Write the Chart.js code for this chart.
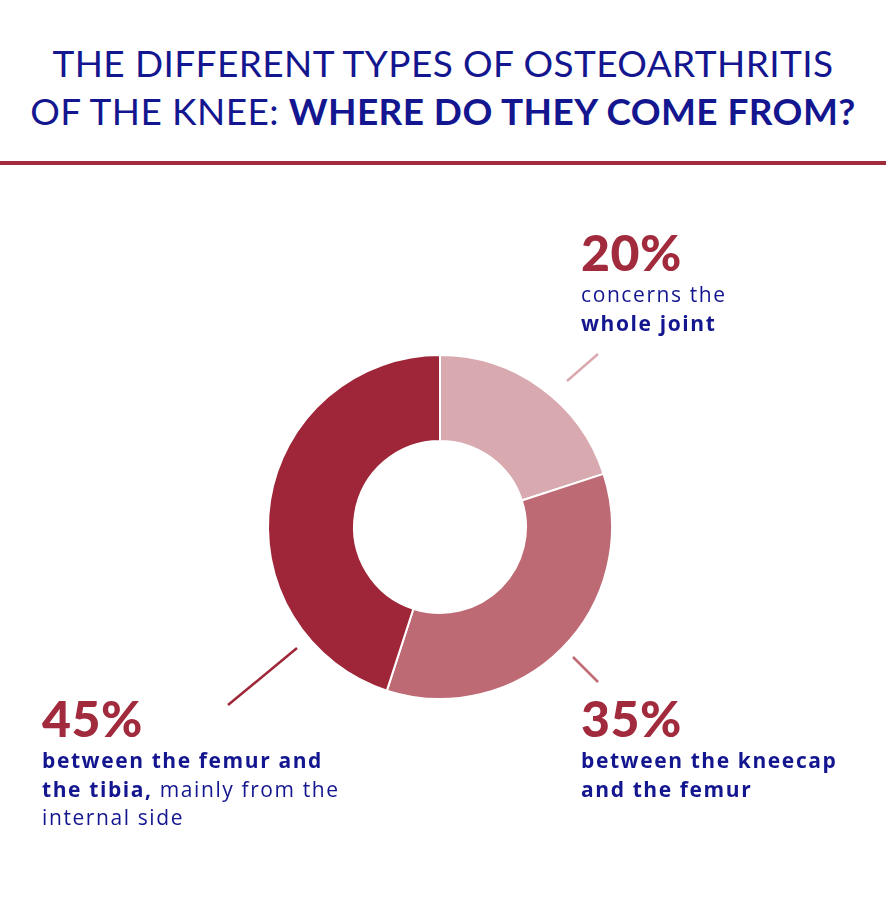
<!DOCTYPE html>
<html><head><meta charset="utf-8">
<script src="https://cdn.jsdelivr.net/npm/chart.js"></script>
<style>
body{margin:0;width:886px;height:909px;background:#fff;position:relative;overflow:hidden;font-family:Lato,"Open Sans",sans-serif;}
#title{position:absolute;left:0;width:886px;top:39px;text-align:center;color:#13168f;font-size:37px;line-height:48px;letter-spacing:0.4px;white-space:nowrap;}
#rule{position:absolute;left:0;top:161px;width:886px;height:4px;background:#a12a3d;}
#wrap{position:absolute;left:263px;top:350px;width:354px;height:354px;}
.lab{position:absolute;color:#13168f;font-family:"Open Sans",sans-serif;font-size:21px;line-height:28.6px;letter-spacing:1.6px;white-space:nowrap;}
.pct{color:#a12a3d;font-family:Lato,sans-serif;font-weight:900;font-size:50px;line-height:60px;letter-spacing:0.5px;margin-top:-14px;margin-bottom:-2px;}
svg{position:absolute;left:0;top:0;}
</style></head><body>
<div id="title">THE DIFFERENT TYPES OF OSTEOARTHRITIS<br>OF THE KNEE: <b>WHERE DO THEY COME FROM?</b></div>
<div id="rule"></div>
<div id="wrap"><canvas id="c"></canvas></div>
<svg width="886" height="909">
<line x1="567" y1="381" x2="598" y2="354" stroke="#d9a9b0" stroke-width="2.5"/>
<line x1="573" y1="657" x2="598" y2="682" stroke="#bd6a74" stroke-width="2.5"/>
<line x1="297" y1="648" x2="228" y2="705" stroke="#9e2638" stroke-width="2.5"/>
</svg>
<div class="lab" style="left:581px;top:236px"><div class="pct">20%</div>concerns the<br><b>whole joint</b></div>
<div class="lab" style="left:581px;top:702px"><div class="pct">35%</div><b>between the kneecap<br>and the femur</b></div>
<div class="lab" style="left:42px;top:702px"><div class="pct">45%</div><b>between the femur and<br>the tibia,</b> mainly from the<br>internal side</div>
<script>
const categories=["Whole joint","Kneecap and femur","Femur and tibia"];
const values=[20,35,45];
const colors=["#d9a9b0","#bd6a74","#9e2638"];
new Chart(document.getElementById('c'),{type:'doughnut',
data:{labels:categories,datasets:[{data:values,backgroundColor:colors,borderColor:'#fff',borderWidth:2}]},
options:{responsive:true,maintainAspectRatio:true,animation:false,cutout:'50%',layout:{padding:4},
plugins:{legend:{display:false},tooltip:{enabled:false}}}});
</script>
</body></html>
